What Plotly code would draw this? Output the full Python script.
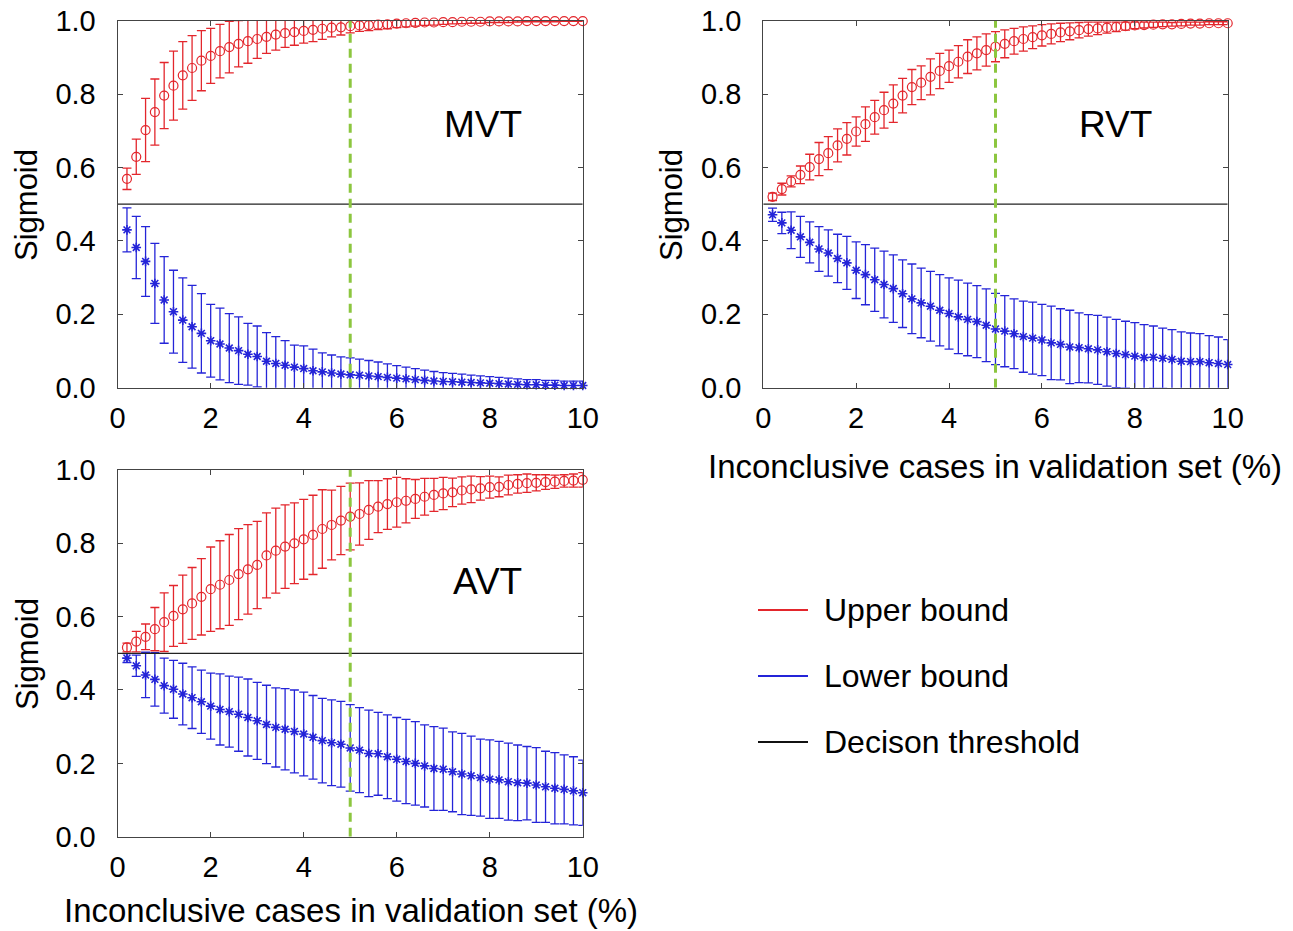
import plotly.graph_objects as go

# Share of inconclusive cases held out of the validation set (%)
inconclusive_pct = [0.2, 0.4, 0.6, 0.8, 1.0, 1.2, 1.4, 1.6, 1.8, 2.0,
                    2.2, 2.4, 2.6, 2.8, 3.0, 3.2, 3.4, 3.6, 3.8, 4.0,
                    4.2, 4.4, 4.6, 4.8, 5.0, 5.2, 5.4, 5.6, 5.8, 6.0,
                    6.2, 6.4, 6.6, 6.8, 7.0, 7.2, 7.4, 7.6, 7.8, 8.0,
                    8.2, 8.4, 8.6, 8.8, 9.0, 9.2, 9.4, 9.6, 9.8, 10.0]

# MVT
mvt_upper = [0.569, 0.629, 0.702, 0.751, 0.796, 0.823, 0.851, 0.871, 0.891, 0.904,
             0.917, 0.928, 0.937, 0.944, 0.950, 0.956, 0.962, 0.966, 0.969, 0.972,
             0.975, 0.978, 0.981, 0.982, 0.985, 0.987, 0.988, 0.989, 0.990, 0.992,
             0.993, 0.994, 0.995, 0.995, 0.996, 0.996, 0.997, 0.997, 0.997, 0.998,
             0.998, 0.998, 0.998, 0.999, 0.999, 0.999, 0.999, 0.999, 0.999, 0.999]
mvt_upper_sd = [0.029, 0.048, 0.086, 0.090, 0.090, 0.094, 0.092, 0.088, 0.082, 0.075,
                0.073, 0.070, 0.063, 0.060, 0.053, 0.045, 0.042, 0.039, 0.036, 0.033,
                0.032, 0.029, 0.025, 0.021, 0.018, 0.016, 0.015, 0.013, 0.012, 0.011,
                0.010, 0.009, 0.008, 0.007, 0.006, 0.005, 0.005, 0.004, 0.004, 0.003,
                0.003, 0.003, 0.002, 0.002, 0.002, 0.002, 0.002, 0.001, 0.001, 0.001]
mvt_lower = [0.430, 0.382, 0.344, 0.284, 0.239, 0.207, 0.184, 0.166, 0.148, 0.128,
             0.119, 0.108, 0.101, 0.091, 0.085, 0.072, 0.066, 0.061, 0.056, 0.052,
             0.046, 0.043, 0.040, 0.037, 0.035, 0.034, 0.032, 0.030, 0.028, 0.026,
             0.024, 0.022, 0.020, 0.018, 0.017, 0.016, 0.015, 0.014, 0.013, 0.012,
             0.011, 0.010, 0.009, 0.008, 0.008, 0.007, 0.007, 0.006, 0.006, 0.006]
mvt_lower_sd = [0.060, 0.085, 0.095, 0.109, 0.118, 0.113, 0.115, 0.113, 0.108, 0.099,
                0.098, 0.094, 0.092, 0.084, 0.083, 0.078, 0.073, 0.067, 0.060, 0.062,
                0.059, 0.052, 0.049, 0.047, 0.046, 0.044, 0.042, 0.040, 0.037, 0.034,
                0.032, 0.030, 0.028, 0.026, 0.024, 0.023, 0.022, 0.020, 0.019, 0.018,
                0.017, 0.016, 0.015, 0.014, 0.014, 0.013, 0.013, 0.012, 0.012, 0.012]

# RVT
rvt_upper = [0.520, 0.541, 0.562, 0.580, 0.601, 0.623, 0.639, 0.660, 0.678, 0.698,
             0.718, 0.737, 0.756, 0.774, 0.796, 0.819, 0.831, 0.847, 0.863, 0.876,
             0.888, 0.902, 0.911, 0.920, 0.929, 0.937, 0.944, 0.950, 0.955, 0.960,
             0.964, 0.968, 0.971, 0.974, 0.977, 0.979, 0.981, 0.983, 0.985, 0.987,
             0.988, 0.989, 0.990, 0.990, 0.991, 0.992, 0.992, 0.993, 0.993, 0.993]
rvt_upper_sd = [0.010, 0.016, 0.015, 0.024, 0.035, 0.045, 0.045, 0.045, 0.044, 0.040,
                0.047, 0.046, 0.049, 0.051, 0.047, 0.048, 0.046, 0.049, 0.048, 0.044,
                0.044, 0.046, 0.045, 0.044, 0.041, 0.038, 0.035, 0.033, 0.031, 0.029,
                0.027, 0.025, 0.023, 0.021, 0.019, 0.017, 0.015, 0.013, 0.011, 0.009,
                0.008, 0.007, 0.006, 0.005, 0.005, 0.004, 0.004, 0.004, 0.004, 0.004]
rvt_lower = [0.471, 0.449, 0.429, 0.411, 0.396, 0.378, 0.367, 0.352, 0.340, 0.320,
             0.308, 0.294, 0.281, 0.270, 0.256, 0.242, 0.231, 0.222, 0.211, 0.202,
             0.193, 0.186, 0.180, 0.170, 0.160, 0.154, 0.147, 0.139, 0.135, 0.130,
             0.122, 0.118, 0.111, 0.109, 0.106, 0.103, 0.098, 0.093, 0.090, 0.086,
             0.082, 0.083, 0.080, 0.077, 0.072, 0.071, 0.071, 0.068, 0.066, 0.063]
rvt_lower_sd = [0.018, 0.029, 0.050, 0.056, 0.056, 0.061, 0.063, 0.066, 0.072, 0.077,
                0.082, 0.086, 0.091, 0.092, 0.092, 0.095, 0.095, 0.095, 0.097, 0.097,
                0.100, 0.099, 0.098, 0.099, 0.097, 0.097, 0.095, 0.097, 0.098, 0.097,
                0.100, 0.097, 0.100, 0.095, 0.093, 0.094, 0.094, 0.093, 0.091, 0.091,
                0.090, 0.085, 0.082, 0.081, 0.080, 0.078, 0.076, 0.074, 0.072, 0.068]

# AVT
avt_upper = [0.516, 0.532, 0.545, 0.566, 0.585, 0.602, 0.620, 0.636, 0.654, 0.675,
             0.687, 0.700, 0.716, 0.729, 0.741, 0.767, 0.780, 0.791, 0.800, 0.811,
             0.823, 0.839, 0.850, 0.862, 0.873, 0.880, 0.891, 0.900, 0.907, 0.912,
             0.916, 0.921, 0.927, 0.932, 0.936, 0.939, 0.944, 0.947, 0.950, 0.953,
             0.954, 0.959, 0.962, 0.964, 0.965, 0.967, 0.968, 0.970, 0.971, 0.973]
avt_upper_sd = [0.012, 0.028, 0.035, 0.059, 0.080, 0.083, 0.093, 0.098, 0.104, 0.115,
                0.120, 0.124, 0.124, 0.122, 0.119, 0.116, 0.116, 0.114, 0.110, 0.109,
                0.108, 0.107, 0.095, 0.093, 0.091, 0.085, 0.080, 0.071, 0.069, 0.068,
                0.060, 0.053, 0.050, 0.045, 0.044, 0.039, 0.037, 0.036, 0.032, 0.030,
                0.027, 0.027, 0.025, 0.025, 0.022, 0.020, 0.018, 0.017, 0.018, 0.020]
avt_lower = [0.487, 0.466, 0.441, 0.429, 0.412, 0.402, 0.389, 0.379, 0.368, 0.356,
             0.347, 0.341, 0.334, 0.325, 0.316, 0.306, 0.298, 0.293, 0.287, 0.280,
             0.271, 0.262, 0.256, 0.252, 0.242, 0.236, 0.227, 0.226, 0.218, 0.211,
             0.205, 0.200, 0.193, 0.186, 0.184, 0.177, 0.171, 0.166, 0.161, 0.157,
             0.155, 0.150, 0.147, 0.146, 0.141, 0.136, 0.132, 0.129, 0.125, 0.120]
avt_lower_sd = [0.012, 0.029, 0.062, 0.073, 0.075, 0.079, 0.084, 0.084, 0.086, 0.090,
                0.097, 0.097, 0.101, 0.105, 0.105, 0.107, 0.108, 0.111, 0.113, 0.114,
                0.114, 0.115, 0.117, 0.117, 0.118, 0.116, 0.118, 0.113, 0.114, 0.114,
                0.115, 0.114, 0.112, 0.114, 0.112, 0.109, 0.111, 0.108, 0.105, 0.107,
                0.105, 0.105, 0.103, 0.100, 0.102, 0.097, 0.097, 0.094, 0.093, 0.089]

decision_threshold = 0.5
cutoff_pct = 5
x_range = [0, 10]
x_ticks = [0, 2, 4, 6, 8, 10]
y_ticks = [0.0, 0.2, 0.4, 0.6, 0.8, 1.0]
panel_names = ["MVT", "RVT", "AVT"]
legend_labels = ["Upper bound", "Lower bound", "Decison threshold"]
x_title = "Inconclusive cases in validation set (%)"
y_title = "Sigmoid"

RED = "#e3262c"
BLUE = "#2424d8"
GREEN = "#8cc63f"
FONT = "Liberation Sans, Arial, Helvetica, sans-serif"

W, H = 1293, 931

panels = [
    dict(name=panel_names[0], up=mvt_upper, up_sd=mvt_upper_sd, lo=mvt_lower, lo_sd=mvt_lower_sd,
         xa="x", ya="y", label_at=(7.86, 0.716)),
    dict(name=panel_names[1], up=rvt_upper, up_sd=rvt_upper_sd, lo=rvt_lower, lo_sd=rvt_lower_sd,
         xa="x2", ya="y2", label_at=(7.59, 0.716)),
    dict(name=panel_names[2], up=avt_upper, up_sd=avt_upper_sd, lo=avt_lower, lo_sd=avt_lower_sd,
         xa="x3", ya="y3", label_at=(7.96, 0.695)),
]

fig = go.Figure()


def errbar_trace(y, sd, color, xa, ya):
    # error bars only; clipped to the plotting frame
    return go.Scatter(x=inconclusive_pct, y=y, mode="markers", xaxis=xa, yaxis=ya,
                      marker=dict(size=2, opacity=0, color=color),
                      error_y=dict(type="data", array=sd, visible=True, color=color,
                                   thickness=1.3, width=4.5),
                      showlegend=False, hoverinfo="skip")


for p in panels:
    xa, ya = p["xa"], p["ya"]
    fig.add_trace(errbar_trace(p["up"], p["up_sd"], RED, xa, ya))
    fig.add_trace(errbar_trace(p["lo"], p["lo_sd"], BLUE, xa, ya))
    fig.add_trace(go.Scatter(x=inconclusive_pct, y=p["up"], mode="markers", xaxis=xa, yaxis=ya,
                             cliponaxis=False,
                             marker=dict(symbol="circle-open", size=9, color=RED,
                                         line=dict(width=1.2, color=RED)),
                             name=legend_labels[0], showlegend=False))
    fig.add_trace(go.Scatter(x=inconclusive_pct, y=p["lo"], mode="markers", xaxis=xa, yaxis=ya,
                             cliponaxis=False,
                             marker=dict(symbol="asterisk-open", size=8, color=BLUE,
                                         line=dict(width=1.6, color=BLUE)),
                             name=legend_labels[1], showlegend=False))
    fig.add_trace(go.Scatter(x=x_range, y=[decision_threshold, decision_threshold], mode="lines",
                             xaxis=xa, yaxis=ya, line=dict(color="#222222", width=1.3),
                             name=legend_labels[2], showlegend=False, hoverinfo="skip"))
    fig.add_trace(go.Scatter(x=[cutoff_pct, cutoff_pct], y=[0, 1], mode="lines",
                             xaxis=xa, yaxis=ya,
                             line=dict(color=GREEN, width=3, dash="9px,6px"),
                             showlegend=False, hoverinfo="skip"))
    fig.add_annotation(x=p["label_at"][0], y=p["label_at"][1], xref=xa, yref=ya,
                       text=p["name"], showarrow=False,
                       font=dict(size=37, color="black", family=FONT))

axis_common = dict(showline=True, linecolor="#444444", linewidth=1.3, mirror="ticks",
                   ticks="inside", ticklen=5, tickwidth=1.2, tickcolor="#444444",
                   showgrid=False, zeroline=False, automargin=False,
                   tickfont=dict(size=29, color="black", family=FONT))
x_axis_extra = dict(range=x_range, tickvals=x_ticks, ticklabelstandoff=4)
y_axis_extra = dict(range=[0, 1], tickvals=y_ticks, tickformat=".1f", ticklabelstandoff=15)

x_dom_left = [0.0910, 0.4507]
x_dom_right = [0.5903, 0.9495]
y_dom_top = [0.5836, 0.9778]
y_dom_bottom = [0.1013, 0.4952]

fig.update_layout(
    width=W, height=H, margin=dict(l=0, r=0, t=0, b=0),
    paper_bgcolor="white", plot_bgcolor="white", showlegend=False,
    xaxis=dict(domain=x_dom_left, anchor="y", **x_axis_extra, **axis_common),
    yaxis=dict(domain=y_dom_top, anchor="x", **y_axis_extra, **axis_common),
    xaxis2=dict(domain=x_dom_right, anchor="y2", **x_axis_extra, **axis_common),
    yaxis2=dict(domain=y_dom_top, anchor="x2", **y_axis_extra, **axis_common),
    xaxis3=dict(domain=x_dom_left, anchor="y3", **x_axis_extra, **axis_common),
    yaxis3=dict(domain=y_dom_bottom, anchor="x3", **y_axis_extra, **axis_common),
)

# Axis titles
y_title_pos = [(27, 205), (672, 205), (27, 654)]
for px, py in y_title_pos:
    fig.add_annotation(xref="paper", yref="paper", x=px / W, y=1 - py / H, text=y_title,
                       textangle=-90, showarrow=False, xanchor="center", yanchor="middle",
                       font=dict(size=31, color="black", family=FONT))
x_title_pos = [(995, 466), (351, 910)]
for px, py in x_title_pos:
    fig.add_annotation(xref="paper", yref="paper", x=px / W, y=1 - py / H, text=x_title,
                       showarrow=False, xanchor="center", yanchor="middle",
                       font=dict(size=33, color="black", family=FONT))

# Key: line samples with their labels
legend_colors = [RED, BLUE, "#111111"]
legend_rows_y = [610, 676, 742]
for label, color, py in zip(legend_labels, legend_colors, legend_rows_y):
    yy = 1 - py / H
    fig.add_shape(type="line", xref="paper", yref="paper", x0=758 / W, x1=808 / W, y0=yy, y1=yy,
                  line=dict(color=color, width=2))
    fig.add_annotation(xref="paper", yref="paper", x=822 / W, y=yy, xanchor="left", yanchor="middle",
                       text=label, showarrow=False, font=dict(size=32, color="black", family=FONT))

fig.write_html("out.html")
